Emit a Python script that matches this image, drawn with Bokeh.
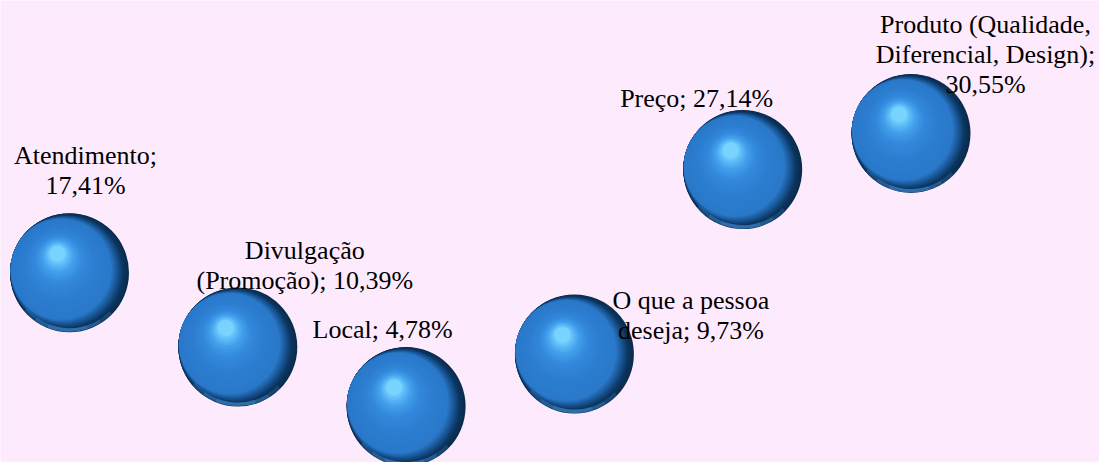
from bokeh.plotting import figure
from bokeh.models import ColumnDataSource, Range1d
from bokeh.transform import dodge
from bokeh.core.properties import value
from bokeh.embed import file_html
from bokeh.resources import INLINE

# ---- data ----
categories = ["Atendimento", "Divulgação (Promoção)", "Local", "O que a pessoa deseja",
              "Preço", "Produto (Qualidade, Diferencial, Design)"]
percent = [17.41, 10.39, 4.78, 9.73, 27.14, 30.55]
label_texts = ["Atendimento;\n17,41%", "Divulgação\n(Promoção); 10,39%", "Local; 4,78%",
               "O que a pessoa\ndeseja; 9,73%", "Preço; 27,14%",
               "Produto (Qualidade,\nDiferencial, Design);\n30,55%"]

# ---- style / layout ----
W, H = 1099, 462
BG = "#FDEBFD"
X_PX = 168.3          # px per category
Y_PX = 10.594         # px per percent point
X0 = -69 / X_PX
Y0 = (456.6 - H) / Y_PX
label_dx = [16, 67, -23.5, 116.5, -46, 74.5]      # label offsets in screen px
label_dy = [-102, -81.5, -77, -38.7, -71, -79]

xs = list(range(len(categories)))
src = ColumnDataSource(dict(x=xs, y=percent, cat=categories,
                            label=label_texts, dx=label_dx, dy=label_dy))

p = figure(width=W, height=H, output_backend="svg", toolbar_location=None,
           x_range=Range1d(X0, X0 + W / X_PX),
           y_range=Range1d(Y0, Y0 + H / Y_PX),
           min_border=0, min_border_left=0, min_border_right=0,
           min_border_top=0, min_border_bottom=0)
p.axis.visible = False
p.grid.visible = False
p.outline_line_color = None
p.background_fill_color = BG
p.border_fill_color = BG


def hex2rgb(h):
    h = h.lstrip("#")
    return [int(h[i:i + 2], 16) for i in (0, 2, 4)]


def lerp_stops(stops, t):
    for (t0, c0), (t1, c1) in zip(stops[:-1], stops[1:]):
        if t <= t1:
            f = 0 if t1 == t0 else (t - t0) / (t1 - t0)
            a, b = hex2rgb(c0), hex2rgb(c1)
            return "#%02x%02x%02x" % tuple(round(a[i] + (b[i] - a[i]) * f) for i in range(3))
    return stops[-1][1]


R = 59.5
layers = []
# phase 1: dark rim on the right, circles tangent on the west-north-west side
dir1 = (-0.92, -0.38)
SH = 9.0
N1 = 14
stops1 = [(0, "#0a2c4c"), (0.3, "#0b3560"), (0.7, "#1c5c9e"), (1, "#2a78c9")]
for k in range(N1):
    s = k / (N1 - 1)
    r = R - SH * s
    off = R - r
    layers.append((off * dir1[0], off * dir1[1], r, lerp_stops(stops1, s)))

# phase 2: body to highlight
c1 = (SH * dir1[0], SH * dir1[1])
r1 = R - SH
ce = (-12.0, -19.0)
re_ = 8.0
N2 = 26
stops2 = [(0, "#2a78c9"), (0.35, "#2c7ed1"), (0.62, "#3489dc"), (0.8, "#44a0ec"),
          (0.92, "#5ebcf7"), (1, "#78d3ff")]
layers2 = []
for j in range(1, N2):
    u = j / (N2 - 1)
    r = r1 + (re_ - r1) * u
    cx = c1[0] + (ce[0] - c1[0]) * u
    cy = c1[1] + (ce[1] - c1[1]) * u
    layers2.append((cx, cy, r, lerp_stops(stops2, u)))

for (ox, oy, r, col) in layers:
    p.scatter(x=dodge("x", ox / X_PX), y=dodge("y", -oy / Y_PX), source=src,
              size=2 * r, marker="circle", fill_color=col, line_color=None)

# soft light reflection along the bottom edge
for (a0, a1, alpha) in [(220, 316, 0.22), (234, 302, 0.25), (248, 288, 0.28)]:
    p.arc(x="x", y="y", radius=R - 2.2, radius_units="screen",
          start_angle=a0, end_angle=a1, start_angle_units="deg", end_angle_units="deg",
          source=src, line_color="#4a9be8", line_width=3.5, line_alpha=alpha)

for (ox, oy, r, col) in layers2:
    p.scatter(x=dodge("x", ox / X_PX), y=dodge("y", -oy / Y_PX), source=src,
              size=2 * r, marker="circle", fill_color=col, line_color=None)

p.text(x="x", y="y", text="label", x_offset="dx", y_offset="dy", source=src,
       text_font=value("Liberation Serif"), text_font_size="26px",
       text_color="#000000", text_align="center", text_baseline="middle",
       text_line_height=1.05)

open("out.html", "w").write(file_html(p, INLINE))
